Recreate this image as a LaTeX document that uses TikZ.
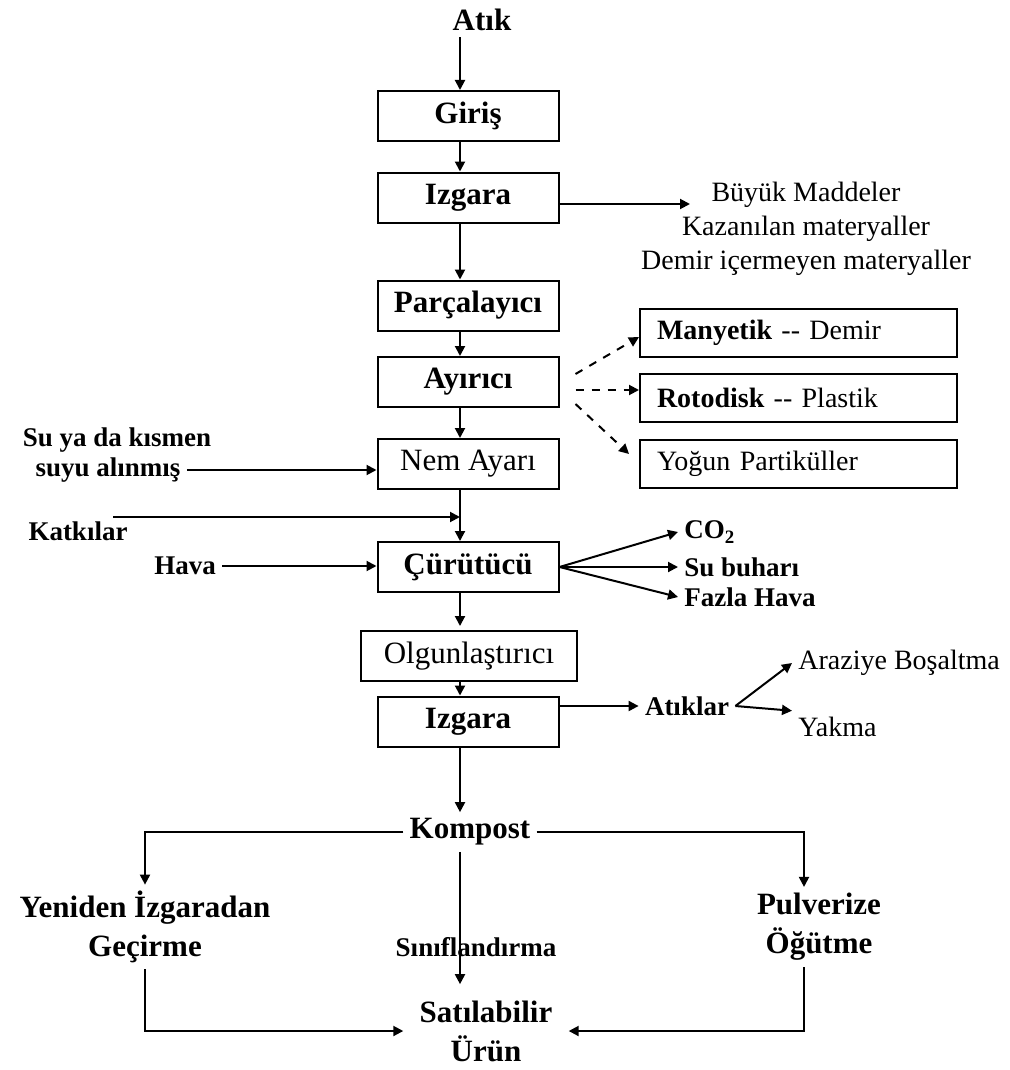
\documentclass[tikz,border=0pt]{standalone}
\usepackage{fontspec}
\setmainfont{Liberation Serif}
\usetikzlibrary{arrows.meta}

\newcommand{\fbig}{\fontsize{15.5}{19.5}\selectfont\bfseries}
\newcommand{\fbigreg}{\fontsize{15.5}{19.5}\selectfont}
\newcommand{\fsmall}{\fontsize{13.5}{16}\selectfont\bfseries}
\newcommand{\freg}{\fontsize{14}{17}\selectfont}

\begin{document}
\begin{tikzpicture}[x=0.5pt, y=-0.5pt,
    every node/.style={inner sep=3pt},
    box/.style={draw, line width=1pt, minimum width=90.5pt, minimum height=25pt, inner sep=0pt, font=\fbig},
    sidebox/.style={draw, line width=1pt, minimum height=24pt, inner xsep=8.5pt, inner ysep=0pt,
        text width=141.5pt, align=left, font=\freg},
    arrow/.style={->, >={Triangle[length=5pt,width=5pt]}, line width=1pt},
    dasharrow/.style={arrow, dash pattern=on 4pt off 4pt}]

    \useasboundingbox (0,0) rectangle (1009,1070);
    % the vertical arrows all run down this column
    \coordinate (colx) at (460,0);

    %%% Main column
    \node[font=\fbig] (atik) at (482,20) {Atık};
    \node[box] (giris) at (468,116) {Giriş};
    \node[box] (izgaraA) at (468,197.5) {Izgara};
    \node[box] (parca) at (468,305.5) {Parçalayıcı};
    \node[box] (ayirici) at (468,382) {Ayırıcı};
    \node[box, font=\fbigreg] (nem) at (468,464) {Nem Ayarı};
    \node[box] (curutucu) at (468,567) {Çürütücü};
    \node[box, font=\fbigreg, minimum width=108pt] (olgun) at (469,656) {Olgunlaştırıcı};
    \node[box] (izgaraB) at (468,721.5) {Izgara};

    \draw[arrow] (atik.south -| colx) -- (giris.north -| colx);
    \draw[arrow] (giris.south -| colx) -- (izgaraA.north -| colx);
    \draw[arrow] (izgaraA.south -| colx) -- (parca.north -| colx);
    \draw[arrow] (parca.south -| colx) -- (ayirici.north -| colx);
    \draw[arrow] (ayirici.south -| colx) -- (nem.north -| colx);
    \draw[arrow] (nem.south -| colx) -- (curutucu.north -| colx);
    \draw[arrow] (curutucu.south -| colx) -- ([yshift=2pt]olgun.north -| colx);
    \draw[arrow] (olgun.south -| colx) -- (izgaraB.north -| colx);

    %%% First screen: what is taken out
    \node[font=\freg, align=center] (buyuk) at (806,229)
        {Büyük Maddeler\\Kazanılan materyaller\\Demir içermeyen materyaller};
    \coordinate (buyukIn) at (690,204);
    \draw[arrow] (izgaraA.east |- buyukIn) -- (buyukIn);

    %%% Separator outputs
    \node[sidebox] (manyetik) at (798.5,333) {\textbf{Manyetik} -{}- Demir};
    \node[sidebox] (rotodisk) at (798.5,398) {\textbf{Rotodisk} -{}- Plastik};
    \node[sidebox] (yogun) at (798.5,464) {Yoğun Partiküller};

    \draw[dasharrow] ([xshift=8pt,yshift=4pt]ayirici.east) -- ([yshift=-2pt]manyetik.west);
    \draw[dasharrow] ([xshift=8pt,yshift=-4pt]ayirici.east) -- ([yshift=4pt]rotodisk.west);
    \draw[dasharrow] ([xshift=8pt,yshift=-11pt]ayirici.east) -- ([xshift=-5pt,yshift=5pt]yogun.west);

    %%% Inputs on the left
    \node[font=\fsmall] (suA) at (117,440) {Su ya da kısmen};
    \node[font=\fsmall] (suB) at (108,470) {suyu alınmış};
    \draw[arrow] (suB.east) -- (suB.east -| nem.west);

    \node[font=\fsmall] (katki) at (78,531) {Katkılar};
    \coordinate (katkiIn) at (113,517);
    \draw[arrow] (katkiIn) -- (katkiIn -| colx);

    \node[font=\fsmall] (hava) at (185,566) {Hava};
    \draw[arrow] (hava.east) -- (hava.east -| curutucu.west);

    %%% Gases out of the digester
    \node[font=\fsmall, anchor=west] (co2) at (678,532) {CO\textsubscript{2}};
    \node[font=\fsmall, anchor=west] (buhar) at (678,567) {Su buharı};
    \node[font=\fsmall, anchor=west] (fazla) at (678,597) {Fazla Hava};
    \draw[arrow] (curutucu.east) -- (co2.west);
    \draw[arrow] (curutucu.east) -- (buhar.west);
    \draw[arrow] (curutucu.east) -- (fazla.west);

    %%% Second screen: rejects
    \node[font=\fsmall] (atiklar) at (687,706) {Atıklar};
    \draw[arrow] (izgaraB.east |- atiklar.west) -- (atiklar.west);
    \node[font=\freg, anchor=west] (arazi) at (792,663) {Araziye Boşaltma};
    \node[font=\freg, anchor=west] (yakma) at (792,727) {Yakma};
    \draw[arrow] (atiklar.east) -- (arazi.west);
    \draw[arrow] (atiklar.east) -- (yakma.north west);

    %%% Compost and its treatment
    \node[font=\fbig] (kompost) at (470,832) {Kompost};
    \node[font=\fbig, align=center] (yeniden) at (145,927) {Yeniden İzgaradan\\Geçirme};
    \node[font=\fbig, align=center] (pulver) at (819,927) {Pulverize\\Öğütme};
    \node[font=\fbig, align=center, inner sep=8pt] (satilabilir) at (486,1031) {Satılabilir\\Ürün};

    \draw[arrow] (izgaraB.south -| colx) -- (kompost.north -| colx);
    \draw[arrow] (kompost.west) -| (yeniden.north);
    \draw[arrow] (kompost.east) -| ([xshift=-7.5pt]pulver.north);
    \draw[arrow] (kompost.south -| colx) -- (satilabilir.north -| colx);
    \draw[arrow] (yeniden.south) |- (satilabilir.west);
    \draw[arrow] ([xshift=-7.5pt]pulver.south) |- (satilabilir.east);

    % label sits on the middle line
    \node[font=\fsmall] (sinif) at (476,947) {Sınıflandırma};
\end{tikzpicture}
\end{document}
